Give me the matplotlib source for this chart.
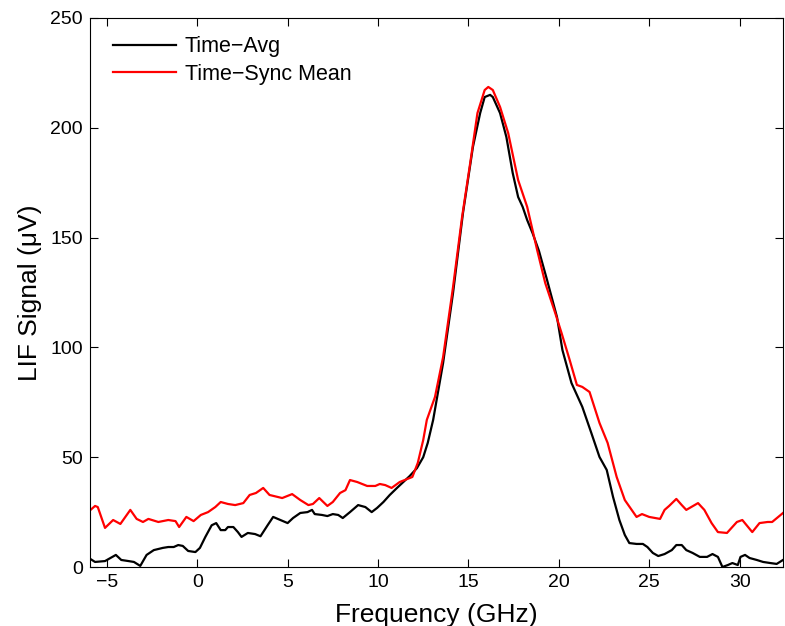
import matplotlib
matplotlib.use("Agg")
import matplotlib.pyplot as plt

# Time-averaged LIF signal (black)
avg_freq = [-5.9, -5.65, -5.1, -4.5, -4.2, -3.8, -3.5, -3.15, -2.8, -2.4, -2.15, -1.9,
            -1.6, -1.3, -1.05, -0.8, -0.5, -0.1, 0.15, 0.45, 0.8, 1.05, 1.3, 1.55, 1.7,
            2.0, 2.25, 2.45, 2.8, 3.2, 3.5, 3.9, 4.2, 4.6, 5.0, 5.3, 5.7, 6.1, 6.35, 6.5,
            6.9, 7.2, 7.5, 7.8, 8.05, 8.45, 8.9, 9.3, 9.65, 9.95, 10.3, 10.65, 11.05,
            11.4, 11.75, 12.15, 12.5, 12.75, 13.05, 13.6, 14.15, 14.7, 15.25, 15.65,
            15.9, 16.2, 16.35, 16.75, 17.1, 17.45, 17.75, 18.0, 18.25, 18.55, 18.9,
            19.35, 19.9, 20.2, 20.7, 21.3, 21.8, 22.25, 22.65, 23.0, 23.35, 23.65, 23.9,
            24.3, 24.65, 24.9, 25.2, 25.5, 25.85, 26.25, 26.5, 26.8, 27.05, 27.4, 27.8,
            28.2, 28.5, 28.8, 29.05, 29.35, 29.6, 29.9, 30.05, 30.3, 30.55, 30.95, 31.3,
            31.7, 32.05, 32.4]
avg_signal = [3.6, 2.3, 2.7, 5.5, 3.2, 2.7, 2.3, 0.5, 5.5, 7.7, 8.2, 8.7,
              9.1, 9.1, 10.0, 9.6, 7.3, 6.8, 8.7, 13.7, 19.0, 20.0, 16.8, 16.8, 18.2,
              18.2, 15.9, 13.7, 15.5, 15.0, 14.0, 19.1, 22.8, 21.4, 20.0, 22.3, 24.6, 25.0, 26.0, 24.1,
              23.7, 23.2, 24.1, 23.7, 22.3, 25.0, 28.2, 27.3, 25.0, 26.9, 29.6, 32.8, 36.0,
              38.7, 41.4, 45.0, 50.0, 56.5, 67.0, 92.9, 124.8, 161.2, 191.3, 206.7,
              214.0, 215.0, 214.0, 206.7, 195.8, 179.4, 168.5, 164.0, 158.0, 152.0, 144.0,
              130.7, 113.8, 98.8, 83.8, 72.9, 61.0, 50.1, 44.2, 31.9, 21.4, 14.6, 10.9,
              10.5, 10.5, 9.1, 6.4, 5.0, 5.9, 7.7, 10.0, 10.0, 7.7, 6.4, 4.6,
              4.6, 5.9, 4.6, 0.0, 0.9, 1.8, 0.9, 4.6, 5.5, 4.1, 3.2, 2.3,
              1.8, 1.4, 3.2]

# Time-synchronised mean LIF signal (red)
sync_freq = [-5.9, -5.65, -5.5, -5.1, -4.65, -4.25, -3.7, -3.35, -3.0, -2.7, -2.15, -1.6,
             -1.2, -1.0, -0.6, -0.2, 0.2, 0.6, 1.0, 1.3, 1.7, 2.1, 2.55, 2.9, 3.25, 3.65,
             4.0, 4.7, 5.25, 5.7, 6.15, 6.4, 6.75, 7.2, 7.5, 7.9, 8.2, 8.45, 8.85, 9.4,
             9.85, 10.1, 10.4, 10.75, 11.2, 11.9, 12.2, 12.5, 12.7, 13.15, 13.6, 14.15,
             14.65, 15.1, 15.5, 15.9, 16.1, 16.35, 16.75, 17.2, 17.75, 18.25, 18.8,
             19.25, 19.8, 20.15, 20.6, 21.0, 21.3, 21.7, 22.25, 22.7, 23.2, 23.65, 24.3,
             24.6, 25.0, 25.6, 25.85, 26.1, 26.5, 26.8, 27.05, 27.7, 28.05, 28.45, 28.8,
             29.3, 29.85, 30.15, 30.7, 31.1, 31.55, 31.8, 32.4]
sync_signal = [26.0, 27.8, 27.3, 17.8, 21.4, 19.6, 26.0, 21.9, 20.5, 21.9, 20.5, 21.4,
               20.9, 18.2, 22.8, 20.9, 23.7, 25.0, 27.3, 29.6, 28.7, 28.2, 29.1, 32.8, 33.7, 36.0,
               32.8, 31.4, 33.2, 30.5, 28.2, 28.7, 31.4, 27.8, 29.6, 33.7, 35.0, 39.6, 38.7, 36.9,
               36.9, 37.8, 37.3, 36.0, 38.7, 41.0, 47.4, 57.8, 67.0, 77.4, 95.6, 127.5,
               159.4, 184.0, 206.7, 217.2, 218.6, 217.2, 209.5, 197.6, 176.2, 164.0, 144.4,
               129.3, 115.7, 106.6, 94.3, 82.9, 82.0, 79.7, 65.6, 56.5, 41.0, 30.5, 22.8,
               24.1, 22.8, 21.9, 26.0, 27.8, 31.0, 28.2, 26.0, 29.1, 26.0, 20.0, 15.9,
               15.5, 20.5, 21.4, 15.9, 20.0, 20.5, 20.5, 24.6]

x_ticks = [-5, 0, 5, 10, 15, 20, 25, 30]
y_ticks = [0, 50, 100, 150, 200, 250]

plt.rcParams['font.family'] = ['Liberation Sans', 'DejaVu Sans']

fig = plt.figure(figsize=(7.85, 6.26), dpi=100)
ax = fig.add_axes([90 / 785, 1 - 567 / 626, 693 / 785, 549 / 626])

ax.plot(avg_freq, avg_signal, color='black', linewidth=1.6, label='Time\u2212Avg')
ax.plot(sync_freq, sync_signal, color='red', linewidth=1.6, label='Time\u2212Sync Mean')

ax.set_xlim(-5.93, 32.4)
ax.set_ylim(0, 250)
ax.set_xticks(x_ticks)
ax.set_yticks(y_ticks)
ax.tick_params(direction='in', top=True, right=True, length=6, width=0.8,
               labelsize=14, pad=5)
for s in ax.spines.values():
    s.set_linewidth(0.8)

ax.set_xlabel('Frequency (GHz)', fontsize=19, labelpad=9)
ax.set_ylabel('LIF Signal (\u03bcV)', fontsize=19, labelpad=6)

ax.legend(loc='upper left', bbox_to_anchor=(0.009, 0.998), frameon=False,
          fontsize=15.5, handlelength=2.9, handletextpad=0.4, labelspacing=0.3,
          borderaxespad=0.4)

fig.savefig('out.png', dpi=100)
